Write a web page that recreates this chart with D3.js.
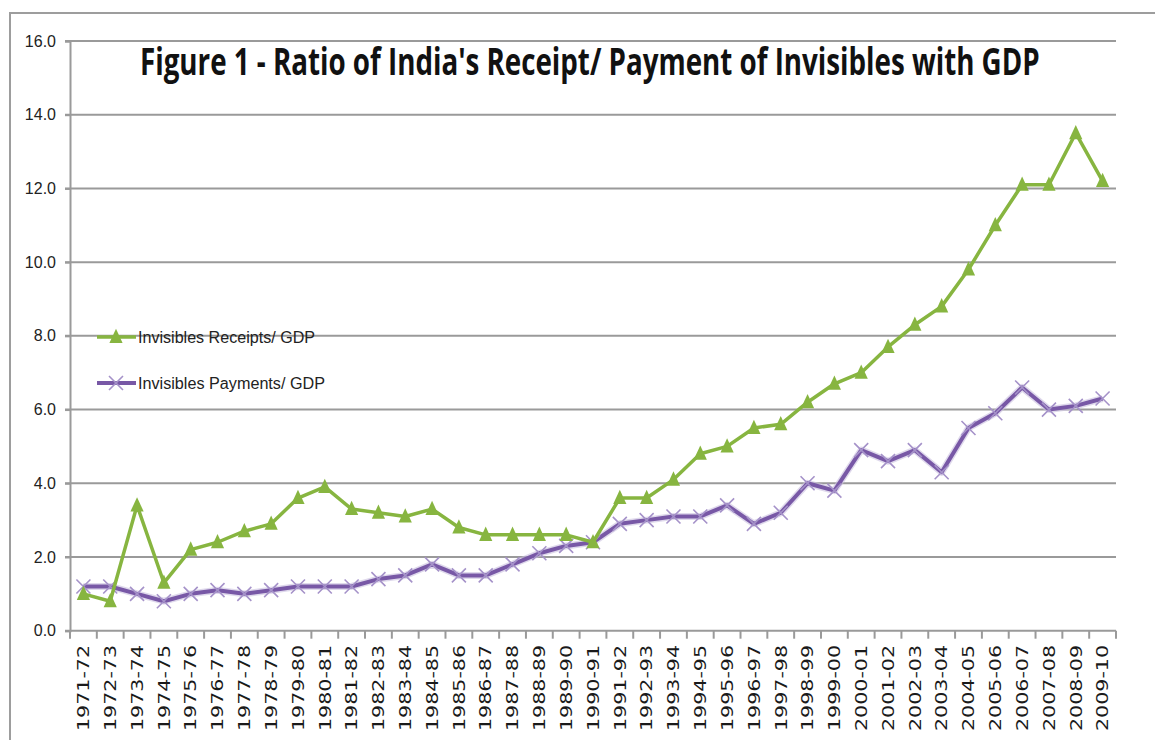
<!DOCTYPE html>
<html>
<head>
<meta charset="utf-8">
<script src="https://cdn.jsdelivr.net/npm/d3@7"></script>
<style>
html,body{margin:0;padding:0;background:#fff;}
svg{display:block;}
</style>
</head>
<body>
<svg id="chart" width="1155" height="740"></svg>
<script>
const categories = ["1971-72","1972-73","1973-74","1974-75","1975-76","1976-77","1977-78","1978-79","1979-80","1980-81",
"1981-82","1982-83","1983-84","1984-85","1985-86","1986-87","1987-88","1988-89","1989-90","1990-91",
"1991-92","1992-93","1993-94","1994-95","1995-96","1996-97","1997-98","1998-99","1999-00","2000-01",
"2001-02","2002-03","2003-04","2004-05","2005-06","2006-07","2007-08","2008-09","2009-10"];
const receipts = [1.0,0.8,3.4,1.3,2.2,2.4,2.7,2.9,3.6,3.9,3.3,3.2,3.1,3.3,2.8,2.6,2.6,2.6,2.6,2.4,
3.6,3.6,4.1,4.8,5.0,5.5,5.6,6.2,6.7,7.0,7.7,8.3,8.8,9.8,11.0,12.1,12.1,13.5,12.2];
const payments = [1.2,1.2,1.0,0.8,1.0,1.1,1.0,1.1,1.2,1.2,1.2,1.4,1.5,1.8,1.5,1.5,1.8,2.1,2.3,2.4,
2.9,3.0,3.1,3.1,3.4,2.9,3.2,4.0,3.8,4.9,4.6,4.9,4.3,5.5,5.9,6.6,6.0,6.1,6.3];
const yTicks = [0,2,4,6,8,10,12,14,16];
const seriesNames = ["Invisibles Receipts/ GDP","Invisibles Payments/ GDP"];
const titleText = "Figure 1 - Ratio of India's Receipt/ Payment of Invisibles with GDP";

(function(){
const svg = d3.select("#chart");
const mLeft = 70, mRight = 1116, mTop = 41, mBottom = 630.7;
const x = d3.scaleBand().domain(categories).range([mLeft, mRight]).paddingInner(0).paddingOuter(0);
const y = d3.scaleLinear().domain([0, 16]).range([mBottom, mTop]);

const green = "#87b540", purple = "#7858a6", purpleMarker = "#a592c9";
const gridColor = "#9a9a9a";

// outer frame
svg.append("rect").attr("x", 10).attr("y", 13).attr("width", 1170).attr("height", 760)
  .attr("fill", "none").attr("stroke", "#9d9d9d").attr("stroke-width", 2);

// gridlines
svg.append("g").selectAll("line").data(yTicks.filter(d => d > 0)).join("line")
  .attr("x1", mLeft - 5).attr("x2", mRight)
  .attr("y1", d => y(d)).attr("y2", d => y(d))
  .attr("stroke", gridColor).attr("stroke-width", 2);

// y axis
const yAxis = d3.axisLeft(y).tickValues(yTicks).tickFormat(d3.format(".1f")).tickSize(5).tickPadding(9);
const gy = svg.append("g").attr("transform", `translate(${mLeft},0)`).call(yAxis);
gy.select(".domain").attr("stroke", gridColor).attr("stroke-width", 2);
gy.selectAll(".tick line").attr("stroke", gridColor).attr("stroke-width", 2);
gy.selectAll(".tick text").attr("font-family", "'Liberation Sans', Arial, sans-serif")
  .attr("font-size", 16).attr("fill", "#222");

// x axis line and boundary ticks
svg.append("line").attr("x1", mLeft - 5).attr("x2", mRight).attr("y1", mBottom).attr("y2", mBottom)
  .attr("stroke", gridColor).attr("stroke-width", 2);
const boundaries = categories.map(c => x(c)).concat([x(categories[categories.length-1]) + x.bandwidth()]);
svg.append("g").selectAll("line").data(boundaries).join("line")
  .attr("x1", d => d).attr("x2", d => d).attr("y1", mBottom).attr("y2", mBottom + 8)
  .attr("stroke", gridColor).attr("stroke-width", 2);

// x labels
svg.append("g").selectAll("text").data(categories).join("text")
  .attr("transform", d => `translate(${x(d) + x.bandwidth()/2},645) rotate(-90)`)
  .attr("text-anchor", "end").attr("dy", "0.36em")
  .attr("font-family", "'DejaVu Sans', Verdana, sans-serif").attr("font-size", 16)
  .attr("textLength", 86).attr("lengthAdjust", "spacingAndGlyphs")
  .attr("fill", "#1a1a1a").text(d => d);

// lines
const lineGen = vals => d3.line().x((d, i) => x(categories[i]) + x.bandwidth()/2).y(d => y(d))(vals);

svg.append("path").attr("d", lineGen(payments)).attr("fill", "none")
  .attr("stroke", "#c9bfe0").attr("stroke-width", 7).attr("stroke-linejoin", "round").attr("opacity", 0.6);
svg.append("path").attr("d", lineGen(payments)).attr("fill", "none")
  .attr("stroke", purple).attr("stroke-width", 4).attr("stroke-linejoin", "round");

const xMark = (cx, cy, s) => `M${cx-s},${cy-s}L${cx+s},${cy+s}M${cx-s},${cy+s}L${cx+s},${cy-s}`;
svg.append("g").selectAll("path").data(payments).join("path")
  .attr("d", (d, i) => xMark(x(categories[i]) + x.bandwidth()/2, y(d), 7))
  .attr("stroke", purpleMarker).attr("stroke-width", 1.6).attr("fill", "none");

svg.append("path").attr("d", lineGen(receipts)).attr("fill", "none")
  .attr("stroke", green).attr("stroke-width", 3.5).attr("stroke-linejoin", "round");

const tri = (cx, cy, s) => `M${cx},${cy-s*0.75}L${cx+s*0.6},${cy+s*0.55}L${cx-s*0.6},${cy+s*0.55}Z`;
svg.append("g").selectAll("path").data(receipts).join("path")
  .attr("d", (d, i) => tri(x(categories[i]) + x.bandwidth()/2, y(d), 11))
  .attr("fill", green);

// legend
const legend = svg.append("g");
const legItems = [
  {name: seriesNames[0], color: green, y: 337, mark: "tri", len: 177},
  {name: seriesNames[1], color: purple, y: 383, mark: "x", len: 187}
];
legItems.forEach(it => {
  legend.append("line").attr("x1", 97).attr("x2", 136).attr("y1", it.y).attr("y2", it.y)
    .attr("stroke", it.color).attr("stroke-width", it.mark === "tri" ? 3.5 : 4);
  if (it.mark === "tri") legend.append("path").attr("d", tri(116, it.y, 11)).attr("fill", green);
  else legend.append("path").attr("d", xMark(116, it.y, 7)).attr("stroke", purpleMarker).attr("stroke-width", 1.6);
  legend.append("text").attr("x", 138).attr("y", it.y).attr("dy", "0.35em")
    .attr("font-family", "'Liberation Sans', Arial, sans-serif").attr("font-size", 16)
    .attr("textLength", it.len).attr("lengthAdjust", "spacingAndGlyphs")
    .attr("fill", "#222").text(it.name);
});

// title: measured and horizontally scaled to span the same width as the reference
const title = svg.append("text").attr("x", 0).attr("y", 0)
  .attr("font-family", "'Liberation Sans Narrow', 'Open Sans', Lato, sans-serif")
  .attr("font-weight", "bold").attr("font-size", 37)
  .attr("fill", "#111").text(titleText);
const natural = title.node().getComputedTextLength() || 900;
title.attr("transform", `translate(140,75) scale(${900 / natural},1)`);
})();
</script>
</body>
</html>
